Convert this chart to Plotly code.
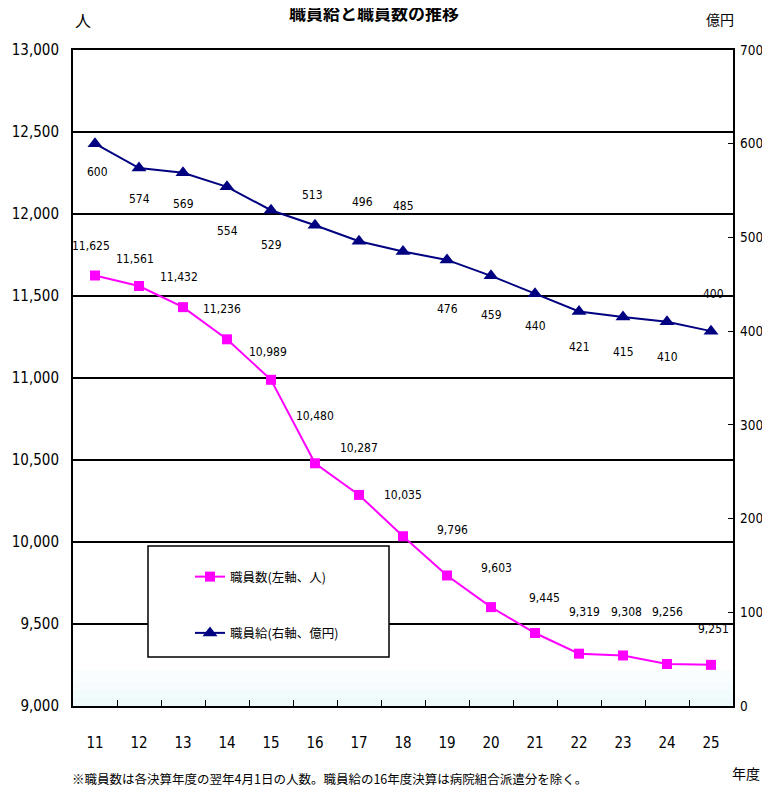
import plotly.graph_objects as go

# ---- data ----
years = ["11", "12", "13", "14", "15", "16", "17", "18", "19", "20", "21", "22", "23", "24", "25"]
staff_count = [11625, 11561, 11432, 11236, 10989, 10480, 10287, 10035, 9796, 9603, 9445, 9319, 9308, 9256, 9251]
staff_pay = [600, 574, 569, 554, 529, 513, 496, 485, 476, 459, 440, 421, 415, 410, 400]

name_count = "職員数(左軸、人)"
name_pay = "職員給(右軸、億円)"
title_text = "職員給と職員数の推移"
note_text = "※職員数は各決算年度の翌年4月1日の人数。職員給の16年度決算は病院組合派遣分を除く。"

# label offsets (styling)
count_xshift = [-4, -4, -4, -5, -3, 0, 0, 0, 5, 5, 9, 5, 3, 0, 2]
count_yshift = [30, 27, 30, 30, 28, 47, 47, 41, 45, 39, 35, 42, 43, 52, 36]
pay_xshift = [2, 0, 0, 0, 0, -3, 3, 0, 0, 0, 0, 0, 0, 0, 2]
pay_yshift = [-28, -31, -31, -44, -35, 30, 39, 45, -49, -39, -32, -36, -35, -35, 37]

NUM_FONT = "Liberation Sans Narrow, DejaVu Sans Condensed, Arial Narrow, Liberation Sans, Arial, sans-serif"
JP_FONT = "Noto Sans CJK JP, sans-serif"

# page has an 8px body margin; figure reaches the window's right/bottom edges
OFF = 8
W, H = 770 - OFF, 793 - OFF
# plot area in absolute window pixels
L, R, T, B = 73, 733, 50, 706


def px(x):
    return (x - L) / (R - L)


def py(y):
    return (B - y) / (B - T)


fig = go.Figure()

fig.add_trace(go.Scatter(
    x=years, y=staff_count, name=name_count, mode="lines+markers",
    line=dict(color="#ff00ff", width=2),
    marker=dict(symbol="square", size=10, color="#ff00ff"),
    yaxis="y", legendgroup="a",
))
fig.add_trace(go.Scatter(
    x=years, y=staff_pay, name=name_pay, mode="lines+markers",
    line=dict(color="#000080", width=2),
    marker=dict(symbol="triangle-up", size=13, color="#000080"),
    yaxis="y2", legendgroup="b",
))

annotations = []
for i, v in enumerate(staff_count):
    annotations.append(dict(
        x=i, y=v, xref="x", yref="y", text=f"{v:,}", showarrow=False,
        xshift=count_xshift[i], yshift=count_yshift[i],
        font=dict(family=NUM_FONT, size=12, color="black"),
    ))
for i, v in enumerate(staff_pay):
    annotations.append(dict(
        x=i, y=v, xref="x", yref="y2", text=f"{v:,}", showarrow=False,
        xshift=pay_xshift[i], yshift=pay_yshift[i],
        font=dict(family=NUM_FONT, size=12, color="black"),
    ))

# titles and unit labels
annotations += [
    dict(x=px(374), y=py(12), xref="paper", yref="paper", text="<b>" + title_text + "</b>",
         showarrow=False, xanchor="center", yanchor="middle",
         font=dict(family=JP_FONT, size=17, color="black")),
    dict(x=px(83), y=py(20), xref="paper", yref="paper", text="人",
         showarrow=False, xanchor="center", yanchor="middle",
         font=dict(family=JP_FONT, size=16, color="black")),
    dict(x=px(720), y=py(19), xref="paper", yref="paper", text="億円",
         showarrow=False, xanchor="center", yanchor="middle",
         font=dict(family=JP_FONT, size=14, color="black")),
    dict(x=px(746), y=py(773), xref="paper", yref="paper", text="年度",
         showarrow=False, xanchor="center", yanchor="middle",
         font=dict(family=JP_FONT, size=14, color="black")),
    dict(x=px(70), y=py(778), xref="paper", yref="paper", text=note_text,
         showarrow=False, xanchor="left", yanchor="middle",
         font=dict(family=JP_FONT, size=12.5, color="black")),
]

shapes = []
# faint gradient at the bottom of the plot area
grad = [(9000, 9050, "#eef9fb"), (9050, 9100, "#f2fbfc"), (9100, 9150, "#f6fcfd"),
        (9150, 9220, "#fafdfe")]
for y0, y1, c in grad:
    shapes.append(dict(type="rect", xref="paper", yref="y", x0=0, x1=1, y0=y0, y1=y1,
                       fillcolor=c, line=dict(width=0), layer="below"))
# legend box
shapes.append(dict(type="rect", xref="paper", yref="paper",
                   x0=px(148), x1=px(389), y0=py(657), y1=py(546),
                   fillcolor="white", line=dict(color="black", width=1.5), layer="above"))

fig.update_layout(
    width=W, height=H,
    margin=dict(l=L - OFF, r=(W + OFF) - R, t=T - OFF, b=(H + OFF) - B, autoexpand=False),
    paper_bgcolor="white", plot_bgcolor="white",
    showlegend=True,
    legend=dict(x=px(190), y=py(562), xanchor="left", yanchor="top",
                bgcolor="rgba(0,0,0,0)", borderwidth=0,
                font=dict(family=JP_FONT, size=12.5, color="black"),
                tracegroupgap=37, traceorder="grouped", itemwidth=30),
    xaxis=dict(type="category", range=[-0.5, 14.5], showgrid=False, automargin=False,
               showline=True, mirror=True, linecolor="black", linewidth=2,
               ticks="inside", ticklen=6, tickwidth=1, tickcolor="black", tickson="boundaries",
               ticklabelstandoff=22,
               tickfont=dict(family=NUM_FONT, size=15, color="black")),
    yaxis=dict(range=[9000, 13000], dtick=500, tickformat=",", automargin=False,
               showgrid=True, gridcolor="black", gridwidth=1.8,
               showline=True, mirror=True, linecolor="black", linewidth=2,
               zeroline=False, ticks="", ticklabelstandoff=9,
               tickfont=dict(family=NUM_FONT, size=15, color="black")),
    yaxis2=dict(range=[0, 700], dtick=100, overlaying="y", side="right", automargin=False,
                showgrid=False, zeroline=False, showline=False,
                ticks="inside", ticklen=5, tickcolor="black", ticklabelstandoff=6,
                tickfont=dict(family=NUM_FONT, size=13.5, color="black")),
    annotations=annotations,
    shapes=shapes,
)

fig.write_html("out.html", post_script="document.body.style.overflow='hidden';")
